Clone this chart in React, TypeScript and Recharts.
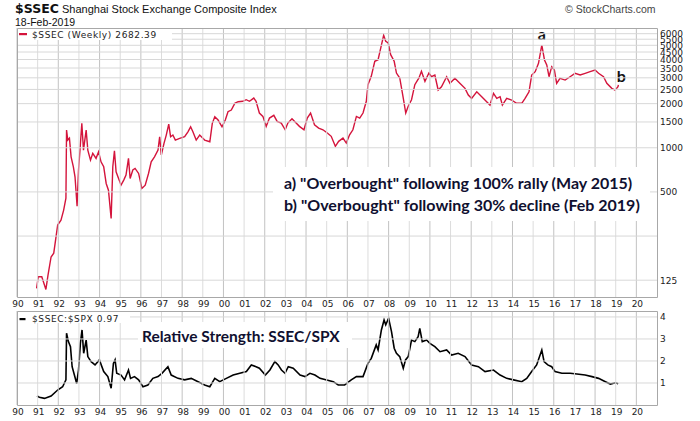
import { LineChart, Line, XAxis, YAxis, ReferenceDot } from 'recharts'

// weekly closes (decimal year, index level)
const ssecWeeks = [
  1990.95, 1991.03, 1991.2, 1991.4, 1991.5, 1991.65, 1991.78, 1991.97, 1992.13, 1992.26,
  1992.37, 1992.4, 1992.46, 1992.54, 1992.62, 1992.73, 1992.81, 1992.91, 1992.98, 1993.05,
  1993.14, 1993.22, 1993.35, 1993.43, 1993.56, 1993.67, 1993.83, 1993.95, 1994.07, 1994.2,
  1994.32, 1994.43, 1994.56, 1994.64, 1994.72, 1994.8, 1994.92, 1995.04, 1995.17, 1995.28,
  1995.4, 1995.48, 1995.61, 1995.72, 1995.89, 1996.05, 1996.21, 1996.37, 1996.5, 1996.66,
  1996.83, 1996.91, 1996.99, 1997.12, 1997.23, 1997.35, 1997.44, 1997.55, 1997.67, 1997.88,
  1998.12, 1998.28, 1998.41, 1998.52, 1998.68, 1998.85, 1999.09, 1999.34, 1999.46, 1999.58,
  1999.74, 1999.93, 2000.09, 2000.22, 2000.38, 2000.55, 2000.71, 2000.94, 2001.1, 2001.26,
  2001.47, 2001.58, 2001.74, 2001.91, 2002.07, 2002.23, 2002.44, 2002.6, 2002.8, 2002.99,
  2003.12, 2003.32, 2003.52, 2003.68, 2003.9, 2004.06, 2004.22, 2004.41, 2004.61, 2004.82,
  2005.03, 2005.22, 2005.42, 2005.58, 2005.79, 2005.95, 2006.11, 2006.27, 2006.44, 2006.6,
  2006.76, 2006.92, 2007.0, 2007.16, 2007.33, 2007.49, 2007.62, 2007.76, 2007.86, 2007.98,
  2008.1, 2008.27, 2008.38, 2008.54, 2008.71, 2008.83, 2008.95, 2009.11, 2009.27, 2009.47,
  2009.59, 2009.76, 2009.95, 2010.08, 2010.24, 2010.4, 2010.56, 2010.81, 2010.97, 2011.21,
  2011.45, 2011.7, 2011.86, 2012.02, 2012.27, 2012.51, 2012.75, 2012.91, 2013.08, 2013.24,
  2013.4, 2013.51, 2013.72, 2013.96, 2014.2, 2014.45, 2014.61, 2014.8, 2014.93, 2015.1,
  2015.26, 2015.42, 2015.55, 2015.66, 2015.77, 2015.9, 2016.03, 2016.14, 2016.3, 2016.55,
  2016.79, 2017.03, 2017.28, 2017.52, 2017.76, 2018.0, 2018.17, 2018.41, 2018.57, 2018.81,
  2018.97, 2019.11, 2019.13,
]
const ssecClose = [
  110, 132, 132, 108, 135, 180, 191, 297, 321, 376,
  454, 1321, 1130, 1164, 868, 742, 634, 400, 705, 964,
  1468, 964, 1321, 964, 824, 916, 847, 939, 802, 742,
  571, 514, 330, 742, 954, 686, 618, 556, 602, 651,
  847, 618, 705, 723, 668, 528, 556, 668, 802, 868,
  964, 1189, 892, 1072, 1221, 1451, 1189, 1221, 1129, 1159,
  1189, 1285, 1390, 1285, 1129, 1221, 1129, 1099, 1468, 1629,
  1546, 1390, 1546, 1762, 1808, 2010, 2061, 2075, 2128, 2075,
  2183, 2075, 1726, 1637, 1400, 1595, 1664, 1514, 1475, 1327,
  1475, 1578, 1475, 1400, 1327, 1595, 1726, 1436, 1362, 1327,
  1260, 1197, 1023, 1106, 1164, 1077, 1226, 1327, 1637, 1595,
  1726, 2075, 2692, 3070, 3890, 3990, 4797, 5848, 5322, 5188,
  4315, 3890, 3235, 2992, 2183, 1726, 1918, 2128, 2692, 2992,
  3323, 2840, 3235, 3052, 3135, 2477, 2608, 3052, 2752, 2976,
  2752, 2543, 2290, 2174, 2411, 2230, 2061, 1956, 2350, 2174,
  2230, 1956, 2174, 2117, 2010, 2010, 2174, 2411, 3135, 3303,
  3767, 5023, 3970, 3671, 3052, 3573, 3389, 2752, 2976, 2897,
  3052, 3220, 3135, 3220, 3303, 3389, 3220, 3052, 2752, 2543,
  2477, 2608, 2682.39,
]

// SSEC:SPX ratio
const rsWeeks = [
  1990.97, 1991.08, 1991.33, 1991.65, 1991.97, 1992.21, 1992.37, 1992.4, 1992.49, 1992.59,
  1992.67, 1992.78, 1992.89, 1992.98, 1993.07, 1993.15, 1993.23, 1993.35, 1993.43, 1993.59,
  1993.78, 1993.99, 1994.2, 1994.4, 1994.56, 1994.67, 1994.75, 1994.83, 1995.04, 1995.21,
  1995.4, 1995.5, 1995.69, 1995.89, 1996.1, 1996.34, 1996.58, 1996.83, 1997.02, 1997.31,
  1997.47, 1997.8, 1998.12, 1998.44, 1998.77, 1999.09, 1999.34, 1999.58, 1999.82, 2000.14,
  2000.47, 2000.79, 2001.11, 2001.35, 2001.58, 2001.74, 2002.03, 2002.25, 2002.49, 2002.65,
  2002.81, 2002.98, 2003.14, 2003.38, 2003.71, 2003.95, 2004.19, 2004.43, 2004.68, 2005.0,
  2005.32, 2005.56, 2005.87, 2006.19, 2006.44, 2006.76, 2007.0, 2007.16, 2007.4, 2007.49,
  2007.65, 2007.78, 2007.86, 2008.0, 2008.14, 2008.27, 2008.38, 2008.54, 2008.71, 2008.82,
  2008.95, 2009.11, 2009.27, 2009.43, 2009.51, 2009.63, 2009.84, 2010.0, 2010.24, 2010.49,
  2010.81, 2011.05, 2011.37, 2011.7, 2012.02, 2012.35, 2012.67, 2013.08, 2013.4, 2013.72,
  2014.05, 2014.45, 2014.69, 2014.93, 2015.17, 2015.42, 2015.53, 2015.71, 2015.9, 2016.06,
  2016.39, 2016.79, 2017.12, 2017.52, 2017.85, 2018.17, 2018.5, 2018.74, 2018.99, 2019.12,
]
const rsRatio = [
  0.41, 0.35, 0.3, 0.41, 0.68, 0.83, 1.14, 3.26, 2.88, 2.65,
  1.74, 1.36, 0.98, 1.59, 2.8, 3.41, 2.35, 2.95, 2.2, 1.97,
  1.82, 2.05, 1.52, 1.29, 0.76, 1.89, 2.05, 1.44, 1.36, 1.14,
  1.59, 1.21, 1.29, 1.14, 0.83, 0.91, 1.21, 1.29, 1.44, 1.74,
  1.36, 1.21, 1.14, 1.21, 1.06, 0.91, 0.83, 1.21, 1.06, 1.21,
  1.36, 1.44, 1.52, 1.82, 1.74, 1.67, 1.36, 1.59, 1.97, 1.82,
  1.59, 1.44, 1.74, 1.67, 1.36, 1.29, 1.44, 1.36, 1.21, 1.14,
  1.06, 0.91, 0.91, 1.14, 1.29, 1.29, 1.89, 2.12, 2.73, 2.5,
  3.41, 3.86, 3.64, 3.94, 3.33, 2.58, 2.35, 2.2, 1.67, 2.05,
  2.2, 2.95, 2.88, 3.1, 3.48, 2.88, 2.95, 2.8, 2.65, 2.42,
  2.5, 2.27, 2.35, 2.2, 1.82, 1.74, 1.52, 1.59, 1.36, 1.21,
  1.14, 1.06, 1.21, 1.52, 1.82, 2.5, 1.97, 1.82, 1.74, 1.52,
  1.44, 1.44, 1.41, 1.36, 1.29, 1.21, 1.06, 0.95, 1.01, 0.97,
]

const yearTicks = [
  1990, 1991, 1992, 1993, 1994, 1995, 1996, 1997, 1998, 1999, 2000, 2001, 2002, 2003, 2004,
  2005, 2006, 2007, 2008, 2009, 2010, 2011, 2012, 2013, 2014, 2015, 2016, 2017, 2018, 2019, 2020,
]
const priceTicks = [125, 250, 500, 1000, 1500, 2000, 2500, 3000, 3500, 4000, 4500, 5000, 5500, 6000]
const rsTicks = [1, 2, 3, 4]

const ssecData = ssecWeeks.map((t, i) => ({ t, close: ssecClose[i] }))
const rsData = rsWeeks.map((t, i) => ({ t, ratio: rsRatio[i] }))

const AXIS_FONT = 'DejaVu Sans'
const NOTE_FONT = 'Lato'
const RED = '#d4143c'
const X_DOMAIN = [1990, 2021]
const PRICE_DOMAIN = [96, 6560]
const RS_DOMAIN = [0, 4.27]

// plot box geometry (chart margins / axis sizes)
const PLOT_LEFT = 17
const PLOT_RIGHT = 657
const TOP_PLOT_H = 269
const RS_PLOT_H = 94

// x tick: year label + the yearly grid line (darker on even years)
function yearTick(plotH: number) {
  return ({ x, y, payload }: any) => (
    <g>
      <line
        x1={x}
        x2={x}
        y1={y}
        y2={y - plotH}
        stroke={payload.value % 2 === 0 ? '#c2c2c2' : '#dcdcdc'}
        strokeWidth={1}
      />
      <text x={x + 1} y={y + 9.5} textAnchor="middle" fontSize={9} fontFamily={AXIS_FONT} fill="#222">
        {String(payload.value % 100).padStart(2, '0')}
      </text>
    </g>
  )
}

// y tick: value label + horizontal grid line
function ValueTick({ x, y, payload }: any) {
  return (
    <g>
      <line x1={PLOT_LEFT} x2={x} y1={y} y2={y} stroke="#d8d8d8" strokeWidth={1} />
      {payload.value !== 250 && (
        <text x={x + 3} y={y + 3.5} textAnchor="start" fontSize={9} fontFamily={AXIS_FONT} fill="#222">
          {payload.value}
        </text>
      )}
    </g>
  )
}

function PointLabel(text: string, dx: number, dy: number) {
  return ({ viewBox }: any) => (
    <text
      x={viewBox.x + dx}
      y={viewBox.y + dy}
      textAnchor="middle"
      fontSize={16}
      fontWeight="bold"
      fontFamily={NOTE_FONT}
      fill="#111"
    >
      {text}
    </text>
  )
}

export default function App() {
  return (
    <div style={{ position: 'relative', width: 700, height: 421, background: '#fff' }}>
      <style>{'body{margin:0}'}</style>

      <div style={{ position: 'absolute', left: 0, top: 0 }}>
        <LineChart width={700} height={310} data={ssecData} margin={{ top: 28, right: 0, bottom: 0, left: PLOT_LEFT }}>
          <XAxis
            dataKey="t"
            type="number"
            domain={X_DOMAIN}
            ticks={yearTicks}
            interval={0}
            allowDataOverflow
            height={13}
            tickSize={0}
            tickMargin={0}
            axisLine={false}
            tickLine={false}
            tick={yearTick(TOP_PLOT_H)}
          />
          <YAxis
            orientation="right"
            scale="log"
            domain={PRICE_DOMAIN}
            ticks={priceTicks}
            interval={0}
            allowDataOverflow
            width={43}
            tickSize={0}
            tickMargin={0}
            axisLine={false}
            tickLine={false}
            tick={ValueTick}
          />
          <Line
            type="linear"
            dataKey="close"
            stroke={RED}
            strokeWidth={1.4}
            dot={false}
            isAnimationActive={false}
          />
          <ReferenceDot x={2015.42} y={5023} r={0} fill="none" stroke="none" label={PointLabel('a', 0, -5)} />
          <ReferenceDot x={2019.13} y={2682.39} r={0} fill="none" stroke="none" label={PointLabel('b', 3, -3)} />
        </LineChart>
      </div>

      <div style={{ position: 'absolute', left: 0, top: 300 }}>
        <LineChart width={700} height={121} data={rsData} margin={{ top: 11, right: 0, bottom: 0, left: PLOT_LEFT }}>
          <XAxis
            dataKey="t"
            type="number"
            domain={X_DOMAIN}
            ticks={yearTicks}
            interval={0}
            allowDataOverflow
            height={16}
            tickSize={0}
            tickMargin={0}
            axisLine={false}
            tickLine={false}
            tick={yearTick(RS_PLOT_H)}
          />
          <YAxis
            orientation="right"
            domain={RS_DOMAIN}
            ticks={rsTicks}
            interval={0}
            allowDataOverflow
            width={43}
            tickSize={0}
            tickMargin={0}
            axisLine={false}
            tickLine={false}
            tick={ValueTick}
          />
          <Line
            type="linear"
            dataKey="ratio"
            stroke="#000"
            strokeWidth={1.6}
            dot={false}
            isAnimationActive={false}
          />
        </LineChart>
      </div>

      <svg width={700} height={421} style={{ position: 'absolute', left: 0, top: 0, pointerEvents: 'none' }}>
        <text x={15} y={12.5} fontSize={12.5} fontWeight="bold" fontFamily={AXIS_FONT} fill="#111">
          $SSEC
        </text>
        <text x={62} y={12.5} fontSize={11} fontFamily="Liberation Sans" fill="#111">
          Shanghai Stock Exchange Composite Index
        </text>
        <text x={15} y={26} fontSize={10.5} fontFamily="Liberation Sans" fill="#111">
          18-Feb-2019
        </text>
        <text x={565} y={13.3} fontSize={10.5} fontFamily="Liberation Sans" fill="#444">
          © StockCharts.com
        </text>

        {/* panel frames */}
        <path
          d={`M${PLOT_LEFT + 0.5},28.5 H${PLOT_RIGHT + 0.5} V${28.5 + TOP_PLOT_H} H${PLOT_LEFT + 0.5} Z`}
          fill="none"
          stroke="#a8a8a8"
        />
        <path
          d={`M${PLOT_LEFT + 0.5},311.5 H${PLOT_RIGHT + 0.5} V${311.5 + RS_PLOT_H} H${PLOT_LEFT + 0.5} Z`}
          fill="none"
          stroke="#a8a8a8"
        />

        <rect x={18} y={29} width={154} height={11} fill="#fff" />
        <rect x={19} y={33} width={8} height={2.2} fill={RED} />
        <text x={32} y={37.5} fontSize={9} letterSpacing={0.6} fontFamily={AXIS_FONT} fill="#222">
          $SSEC (Weekly) 2682.39
        </text>

        <rect x={18} y={312} width={112} height={11} fill="#fff" />
        <rect x={19.5} y={318} width={6} height={2.2} fill="#000" />
        <text x={32} y={321.7} fontSize={9} letterSpacing={0.6} fontFamily={AXIS_FONT} fill="#222">
          $SSEC:$SPX 0.97
        </text>

        <rect x={273} y={167} width={377} height={54} fill="#fff" />
        <text x={284} y={189} fontSize={16} fontWeight="bold" fontFamily={NOTE_FONT} fill="#101030">
          a) "Overbought" following 100% rally (May 2015)
        </text>
        <text x={284} y={210.5} fontSize={16} fontWeight="bold" fontFamily={NOTE_FONT} fill="#101030">
          b) "Overbought" following 30% decline (Feb 2019)
        </text>

        <rect x={138} y={322} width={214} height={26} fill="#fff" />
        <text x={142} y={341.7} fontSize={15.5} fontWeight="bold" fontFamily={NOTE_FONT} fill="#101030">
          Relative Strength: SSEC/SPX
        </text>
      </svg>
    </div>
  )
}
